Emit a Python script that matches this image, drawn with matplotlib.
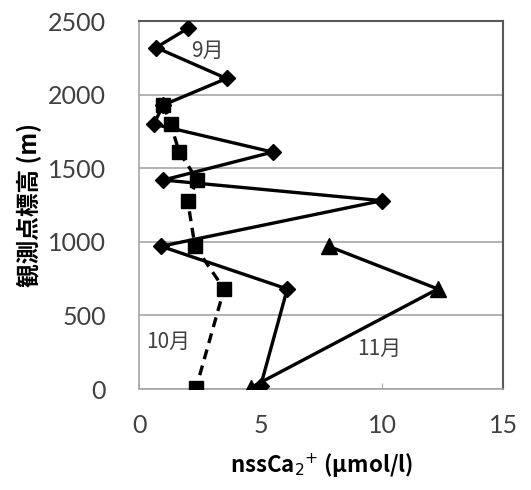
import matplotlib
matplotlib.use("Agg")
import matplotlib.pyplot as plt

plt.rcParams['font.family'] = ['Noto Sans CJK JP', 'DejaVu Sans']

# 9月 (diamonds, solid)
sep_x = [2.0, 0.7, 3.6, 1.0, 0.6, 5.5, 1.0, 10.0, 0.9, 6.1, 5.0]
sep_y = [2450, 2320, 2110, 1930, 1800, 1610, 1420, 1280, 970, 680, 20]
# 10月 (squares, dashed)
oct_x = [1.0, 1.3, 1.65, 2.4, 2.0, 2.3, 3.5, 2.35]
oct_y = [1930, 1800, 1610, 1420, 1280, 970, 680, 10]
# 11月 (triangles, solid)
nov_x = [7.8, 12.3, 4.6]
nov_y = [970, 680, 10]

x_ticks = [0, 5, 10, 15]
y_ticks = [0, 500, 1000, 1500, 2000, 2500]

fig = plt.figure(figsize=(5.31, 4.90), dpi=100)
ax = fig.add_axes([0.262, 0.206, 0.686, 0.751])

ax.plot(sep_x, sep_y, color='black', lw=2.4, marker='D', markersize=8, zorder=3)
ax.plot(oct_x, oct_y, color='black', lw=2.4, ls=(0, (3, 2)), marker='s',
        markersize=10, zorder=4)
ax.plot(nov_x, nov_y, color='black', lw=2.4, marker='^', markersize=11, zorder=3)

ax.set_xlim(0, 15)
ax.set_ylim(0, 2500)
ax.set_xticks(x_ticks)
ax.set_yticks(y_ticks)
ax.yaxis.grid(True, color='#a6a6a6', lw=1.2)
ax.set_axisbelow(True)

for s in ['top', 'right']:
    ax.spines[s].set_color('#595959')
    ax.spines[s].set_linewidth(1.5)
for s in ['left', 'bottom']:
    ax.spines[s].set_color('#a6a6a6')
    ax.spines[s].set_linewidth(1.2)

ax.tick_params(axis='both', labelsize=18, labelcolor='#404040', color='#a6a6a6',
               length=4)
ax.tick_params(axis='x', direction='in', pad=18)
ax.tick_params(axis='y', pad=24, length=0)
for lab in ax.get_xticklabels() + ax.get_yticklabels():
    lab.set_family(['Lato', 'DejaVu Sans'])

ax.set_xlabel('nssCa$_2$$^{+}$ (μmol/l)', fontsize=16, fontweight='bold', labelpad=10)
ax.set_ylabel('観測点標高 (m)', fontsize=17, fontweight='bold', labelpad=4)

ax.text(2.8, 2300, '9月', fontsize=15, color='#404040', ha='center', va='center')
ax.text(1.2, 320, '10月', fontsize=15, color='#404040', ha='center', va='center')
ax.text(9.9, 270, '11月', fontsize=15, color='#404040', ha='center', va='center')

fig.savefig('out.png', dpi=100)
